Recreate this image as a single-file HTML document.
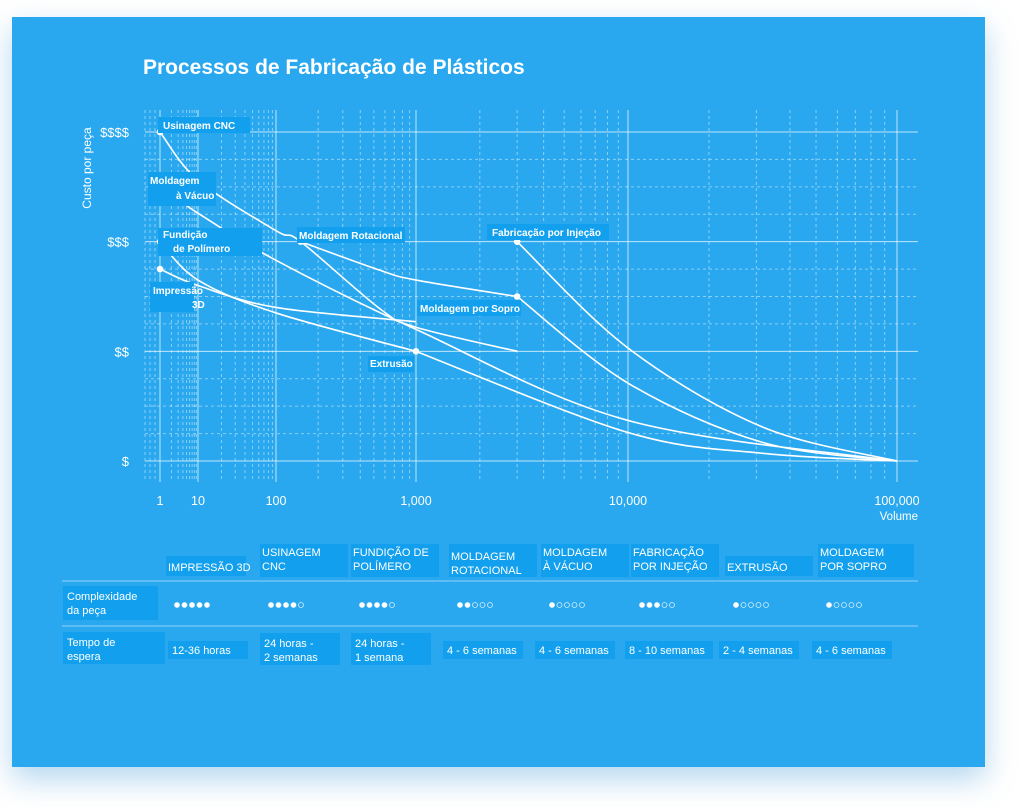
<!DOCTYPE html>
<html><head><meta charset="utf-8"><style>
body{margin:0;width:1024px;height:807px;background:#fff;overflow:hidden;font-family:"Liberation Sans",sans-serif}
#card{position:absolute;left:12px;top:17px;width:973px;height:750px;background:#29a8ef;box-shadow:0 12px 28px rgba(40,140,210,0.35)}
svg{position:absolute;left:0;top:0}
</style></head><body>
<div id="card"></div>
<svg id="s" width="1024" height="807"></svg>
<script>
const xTicks=[1,10,100,1000,10000,100000];
const xTickLabels=["1","10","100","1,000","10,000","100,000"];
const yTicks=[1,2,3,4];
const yTickLabels=["$","$$","$$$","$$$$"];
const cnc=[[1,4],[10,3.56],[100,3.1],[150,3],[550,2.39],[1000,2.22],[3000,2]];
const vacuo=[[1,3.5],[10,3.26],[100,2.83],[1000,2.2],[10000,1.37],[100000,1]];
const fundicao=[[1,3],[10,2.65],[100,2.35],[1000,2]];
const impressao=[[1,2.75],[10,2.6],[100,2.4],[1000,2.27]];
const rotacional=[[150,3],[550,2.74],[1000,2.65],[3000,2.5]];
const injecao=[[3000,3],[10000,2.03],[31623,1.31],[100000,1]];
const sopro=[[3000,2.5],[10000,1.71],[31623,1.17],[100000,1]];
const extrusao=[[1000,2],[10000,1.26],[31623,1.07],[100000,1]];
const procNames=["IMPRESSÃO 3D","USINAGEM CNC","FUNDIÇÃO DE POLÍMERO","MOLDAGEM ROTACIONAL","MOLDAGEM À VÁCUO","FABRICAÇÃO POR INJEÇÃO","EXTRUSÃO","MOLDAGEM POR SOPRO"];
const headerLines=[["IMPRESSÃO 3D"],["USINAGEM","CNC"],["FUNDIÇÃO DE","POLÍMERO"],["MOLDAGEM","ROTACIONAL"],["MOLDAGEM","À VÁCUO"],["FABRICAÇÃO","POR INJEÇÃO"],["EXTRUSÃO"],["MOLDAGEM","POR SOPRO"]];
const complexity=[5,4,4,2,1,3,1,1];
const leadTimes=[["12-36 horas"],["24 horas -","2 semanas"],["24 horas -","1 semana"],["4 - 6 semanas"],["4 - 6 semanas"],["8 - 10 semanas"],["2 - 4 semanas"],["4 - 6 semanas"]];

const NS="http://www.w3.org/2000/svg";
const s=document.getElementById('s');
const xAnchors=[160,198,276,416,628,897];
function X(v){const l=Math.log10(v);const i=Math.min(4,Math.max(0,Math.floor(l)));return xAnchors[i]+(l-i)*(xAnchors[i+1]-xAnchors[i]);}
function Y(c){return 461-(c-1)*109.67;}
function el(t,a,p){const e=document.createElementNS(NS,t);for(const k in a)e.setAttribute(k,a[k]);(p||s).appendChild(e);return e;}
function txt(x,y,str,o){const e=el('text',Object.assign({x:x,y:y,fill:'#fff','font-size':12,'font-family':'Liberation Sans, sans-serif'},o||{}));e.textContent=str;return e;}

// title
const title=txt(143,74,"Processos de Fabricação de Plásticos",{'font-size':21,'font-weight':'bold'});



// grid
const g=el('g',{});


for(let d=0;d<5;d++)for(let m=2;m<10;m++){const x=X(m*Math.pow(10,d));el('line',{x1:x,x2:x,y1:110,y2:482,stroke:'rgba(255,255,255,0.45)','stroke-dasharray':'3,3','stroke-width':1},g);}
[145,150,155].forEach(x=>el('line',{x1:x,x2:x,y1:110,y2:482,stroke:'rgba(255,255,255,0.45)','stroke-dasharray':'3,3'},g));
for(let c=1;c<4;c++)for(let q=1;q<4;q++){const y=Y(c+q/4);el('line',{x1:145,x2:918,y1:y,y2:y,stroke:'rgba(255,255,255,0.45)','stroke-dasharray':'3,3'},g);}
xTicks.forEach((v,i)=>{const x=X(v);const l=el('line',{x1:x,x2:x,y1:110,y2:482,stroke:'rgba(255,255,255,0.7)'},g);
const t=txt(x,505,xTickLabels[i],{'text-anchor':'middle','font-size':12.5});

});
yTicks.forEach((c,i)=>{const y=Y(c);el('line',{x1:145,x2:918,y1:y,y2:y,stroke:'rgba(255,255,255,0.7)'},g);
const t=txt(129,y+5,yTickLabels[i],{'text-anchor':'end','font-size':13});

});
const xt=txt(918,520,"Volume",{'text-anchor':'end','font-size':11.5});


const yt=txt(0,0,"Custo por peça",{'text-anchor':'middle','font-size':12,transform:'translate(91,168) rotate(-90)'});



function pathD(pts){const p=pts.map(d=>[X(d[0]),Y(d[1])]);let d='M'+p[0][0]+','+p[0][1];
for(let i=0;i<p.length-1;i++){const p0=p[i-1]||p[i],p1=p[i],p2=p[i+1],p3=p[i+2]||p[i+1];
d+=' C'+(p1[0]+(p2[0]-p0[0])/6)+','+(p1[1]+(p2[1]-p0[1])/6)+' '+(p2[0]-(p3[0]-p1[0])/6)+','+(p2[1]-(p3[1]-p1[1])/6)+' '+p2[0]+','+p2[1];}return d;}
const series=[["cnc",cnc],["vacuo",vacuo],["fundicao",fundicao],["impressao-3d",impressao],["rotacional",rotacional],["injecao",injecao],["sopro",sopro],["extrusao",extrusao]];
series.forEach(([n,pts])=>{const p=el('path',{d:pathD(pts),fill:'none',stroke:'#fff','stroke-width':1.6});


const c=el('circle',{cx:X(pts[0][0]),cy:Y(pts[0][1]),r:3.3,fill:'#fff'});

});

function label(x,y,w,h,lines,anchorX){const gg=el('g',{});


el('rect',{x:x,y:y,width:w,height:h,fill:'#12a0ee'},gg);
lines.forEach((l,i)=>{const t=txt(l[1],l[2],l[0],{'font-size':10,'font-weight':'bold'});gg.appendChild(t);});}
label(158,117,92,16,[["Usinagem CNC",163,129]]);
label(148,172,68,34,[["Moldagem",150,184],["à Vácuo",176,199]]);
label(158,228,104,28,[["Fundição",163,238],["de Polímero",173,252]]);
label(150,282,44,30,[["Impressão",153,294],["3D",192,308]]);
label(297,227,108,16,[["Moldagem Rotacional",299,239]]);
label(487,224,122,16,[["Fabricação por Injeção",492,236]]);
label(417,300,104,16,[["Moldagem por Sopro",420,312]]);
label(368,356,46,16,[["Extrusão",370,367]]);

// table
const tg=el('g',{});


const colX=[168,262,353,451,543,633,727,820];
headerLines.forEach((ls,i)=>{const top=ls.length==1?558:544;const w=i==0?80:(i==7?96:88);
el('rect',{x:colX[i]-2,y:top-(ls.length==1?2:0),width:w,height:ls.length==1?20:33,fill:'#12a0ee'},tg);
ls.forEach((l,j)=>{const t=txt(colX[i],(ls.length==1?571:556)+j*14+(i==3?4:0),l,{'font-size':11});


tg.appendChild(t);});});
el('line',{x1:62,x2:918,y1:581,y2:581,stroke:'rgba(255,255,255,0.5)'},tg);
el('line',{x1:62,x2:918,y1:626,y2:626,stroke:'rgba(255,255,255,0.5)'},tg);
el('rect',{x:63,y:586,width:95,height:34,fill:'#12a0ee'},tg);
tg.appendChild(txt(67,600,"Complexidade",{'font-size':11}));
tg.appendChild(txt(67,614,"da peça",{'font-size':11}));
el('rect',{x:63,y:632,width:102,height:32,fill:'#12a0ee'},tg);
tg.appendChild(txt(67,646,"Tempo de",{'font-size':11}));
tg.appendChild(txt(67,660,"espera",{'font-size':11}));
complexity.forEach((c,i)=>{for(let k=0;k<5;k++){const d=el('circle',{cx:colX[i]+9+k*7.5,cy:605,r:2.5,fill:k<c?'#fff':'none',stroke:'rgba(255,255,255,0.8)','stroke-width':0.8},tg);

}});
leadTimes.forEach((ls,i)=>{const two=ls.length==2;const x=colX[i]+(i==0?4:(i>=3?-4:2));
el('rect',{x:x-4,y:two?633:641,width:(i==5?88:80),height:two?32:18,fill:'#12a0ee'},tg);
ls.forEach((l,j)=>{const t=txt(x,(two?647:654)+j*14,l,{'font-size':11});


tg.appendChild(t);});});
</script>
</body></html>
